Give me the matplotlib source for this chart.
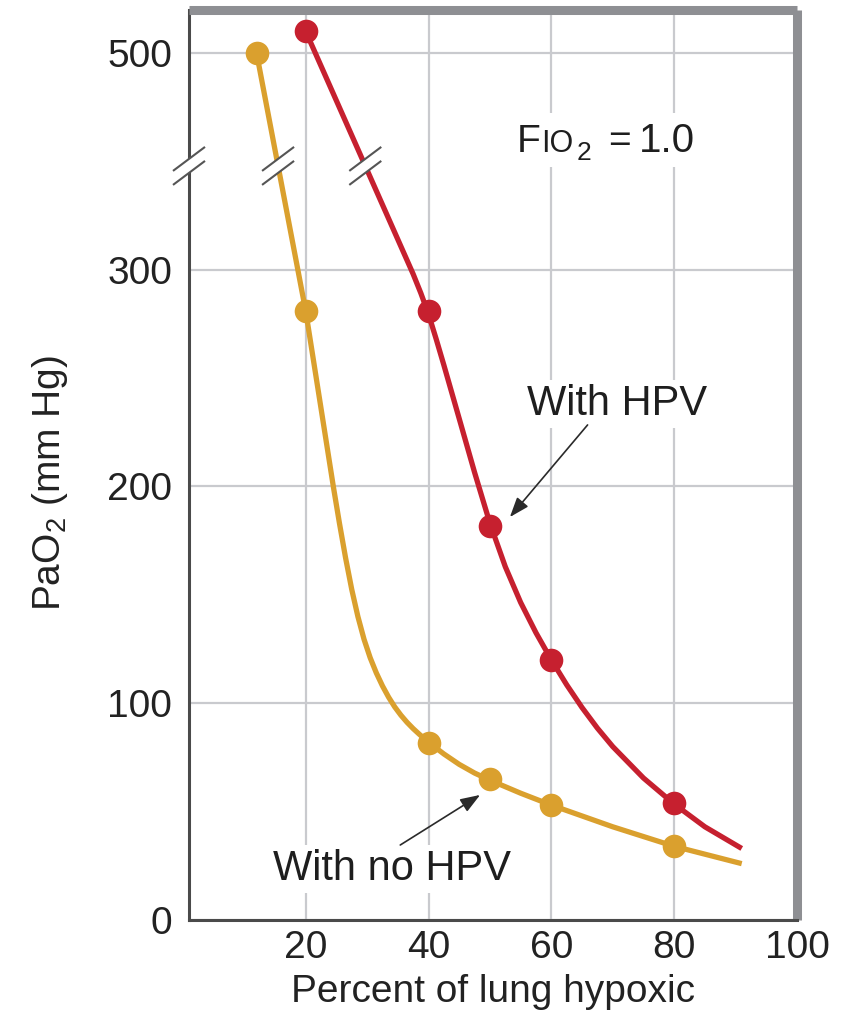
import numpy as np
import matplotlib
matplotlib.use("Agg")
import matplotlib.pyplot as plt
from matplotlib.patches import Polygon, Rectangle

# ---------------- data ----------------
# measured points
nohpv_x = [12, 20, 40, 50, 60, 80]
nohpv_y = [500, 281, 81.5, 65, 53, 34]
hpv_x = [20, 40, 50, 60, 80]
hpv_y = [510, 281, 182, 120, 54]

# traced curves
nohpv_curve_x = [12, 20, 21.5, 23, 24.5, 25.5, 26.5, 27.5, 28.5, 29.5, 30.5,
                 31.5, 32.5, 33.5, 34.5, 35.5, 36.5, 37.5, 38.5, 40, 42.5, 45,
                 47.5, 50, 55, 60, 70, 80, 91]
nohpv_curve_y = [500, 281, 254, 227, 200, 183, 167, 152.5, 140, 129.5, 121,
                 114, 108, 102.8, 98.3, 94.5, 91.2, 88.3, 85.7, 82, 76.6, 71.8,
                 67.8, 64.5, 58.5, 53, 43, 34, 26]
hpv_curve_x = [20, 37.5, 38.75, 40, 41.25, 42.5, 45, 47.5, 50, 52.5, 55, 57.5,
               60, 62.5, 65, 67.5, 70, 75, 80, 85, 91]
hpv_curve_y = [510, 298, 289.2, 279.5, 268, 256, 231.3, 206.5, 183, 163, 146.5,
               132.5, 120, 108.5, 98, 88.5, 80, 65.5, 53.5, 43, 33]

xtick_vals = [20, 40, 60, 80, 100]
ytick_vals = [0, 100, 200, 300, 500]

BREAK_AT = 350   # values above this are shifted down by GAP (axis break)
GAP = 100


def to_axis(v):
    v = np.asarray(v, dtype=float)
    return np.where(v > BREAK_AT, v - GAP, v)


ORANGE = "#DAA02E"
RED = "#C6202F"
TXT = "#1e1e1e"
FONT = "Liberation Sans"

plt.rcParams["font.family"] = [FONT, "DejaVu Sans"]
plt.rcParams["mathtext.fontset"] = "custom"
plt.rcParams["mathtext.rm"] = FONT
plt.rcParams["mathtext.it"] = FONT

W, H = 853, 1018
fig = plt.figure(figsize=(W / 100, H / 100), dpi=100)
L, R, T, B = 189, 797, 10.5, 920
ax = fig.add_axes([L / W, 1 - B / H, (R - L) / W, (B - T) / H])

X0, X1, Y1 = 1.0, 100, 419.6
ax.set_xlim(X0, X1)
ax.set_ylim(0, Y1)

sx = (R - L) / (X1 - X0)   # px per x unit
sy = (B - T) / Y1          # px per y unit


def px2data(px, py):
    return X0 + (px - L) / sx, (B - py) / sy


# grid / ticks
ax.set_xticks(xtick_vals)
ax.set_xticklabels([str(v) for v in xtick_vals])
ax.set_yticks(to_axis(ytick_vals))
ax.set_yticklabels([str(v) for v in ytick_vals])
ax.grid(True, color="#c9cace", lw=1.6, zorder=0)
ax.set_axisbelow(True)
ax.tick_params(length=0, labelsize=28, labelcolor="#222222")
ax.tick_params(axis="x", pad=7)
ax.tick_params(axis="y", pad=12)

for s in ["left", "bottom"]:
    ax.spines[s].set_color("#4a4a4a")
    ax.spines[s].set_linewidth(2.2)
for s in ["top", "right"]:
    ax.spines[s].set_color("#8e8f93")
    ax.spines[s].set_linewidth(6.5)
    ax.spines[s].set_capstyle("butt")

# curves
ax.plot(nohpv_curve_x, to_axis(nohpv_curve_y), color=ORANGE, lw=3.8,
        solid_joinstyle="round", solid_capstyle="butt", zorder=3)
ax.plot(hpv_curve_x, to_axis(hpv_curve_y), color=RED, lw=3.8,
        solid_joinstyle="round", solid_capstyle="butt", zorder=3)
ax.plot(nohpv_x, to_axis(nohpv_y), "o", color=ORANGE, ms=17, mec="none", zorder=4)
ax.plot(hpv_x, to_axis(hpv_y), "o", color=RED, ms=17, mec="none", zorder=4)

# break marks
yb = 347.9


def cross_x(cx, cy):
    cy = to_axis(cy)
    return float(np.interp(yb, cy[::-1], np.asarray(cx, float)[::-1]))


def break_mark(xc):
    hx, hy, off = 16 / sx, 12 / sy, 7 / sy
    poly = Polygon([(xc - hx, yb - hy + off), (xc + hx, yb + hy + off),
                    (xc + hx, yb + hy - off), (xc - hx, yb - hy - off)],
                   closed=True, facecolor="white", edgecolor="none",
                   zorder=5, clip_on=False)
    ax.add_patch(poly)
    for o in (off, -off):
        ax.plot([xc - hx, xc + hx], [yb - hy + o, yb + hy + o], color="#555555",
                lw=1.5, zorder=6, clip_on=False, solid_capstyle="butt")


break_mark(X0)
break_mark(cross_x(nohpv_curve_x[:2], nohpv_curve_y[:2]))
break_mark(cross_x(hpv_curve_x[:2], hpv_curve_y[:2]))

# annotations
box = dict(facecolor="white", edgecolor="none", pad=3)
ax.text(70.7, 233, "With HPV", fontsize=30, ha="center", va="baseline",
        color=TXT, bbox=box, zorder=7)
ax.text(34.0, 18.5, "With no HPV", fontsize=30, ha="center", va="baseline",
        color=TXT, bbox=box, zorder=7)

arrow = dict(arrowstyle="-|>,head_length=0.6,head_width=0.22", color="#2a2a2a",
             lw=1.2, shrinkA=0, shrinkB=0, mutation_scale=20)
ax.annotate("", xy=(53.25, 185.9), xytext=(65.9, 228.4), arrowprops=arrow, zorder=7)
ax.annotate("", xy=(48.4, 57.7), xytext=(35.4, 34.6), arrowprops=arrow, zorder=7)

# FIO2 = 1.0  (white backing box, then pieces placed at their positions)
bx0, by0 = px2data(508, 167)
bx1, by1 = px2data(714, 113)
ax.add_patch(Rectangle((bx0, by0), bx1 - bx0, by1 - by0, facecolor="white",
                       edgecolor="none", zorder=6))
pieces = [("F", 28, 517, 0), ("IO", 22, 541, 0), ("2", 19, 577, -8),
          ("=", 28, 608, 0), ("1.0", 29, 639, 0)]
base_py = 152.0
for txt, fs, left_px, dy_px in pieces:
    xd, yd = px2data(left_px, base_py - dy_px)
    ax.text(xd, yd, txt, fontsize=fs, ha="left", va="baseline", color=TXT,
            zorder=7)

# axis labels
fig.text((L + R) / 2 / W, 1 - 1002 / H, "Percent of lung hypoxic", fontsize=28,
         ha="center", va="baseline", color="#222222")
fig.text(60 / W, 1 - 483.5 / H, r"PaO$_\mathregular{2}$ (mm Hg)", fontsize=28,
         ha="center", va="baseline", rotation=90, rotation_mode="anchor",
         color="#222222")

fig.savefig("out.png", dpi=100, facecolor="white")
